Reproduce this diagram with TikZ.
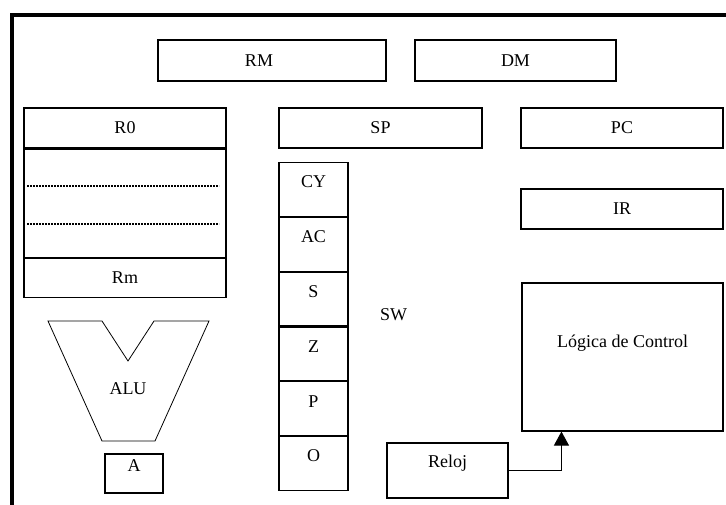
\documentclass[tikz,border=0pt]{standalone}
\usepackage{fontspec}
\setmainfont{Liberation Serif}
\usetikzlibrary{arrows.meta,calc}
\begin{document}
\begin{tikzpicture}[x=1pt,y=-1pt,
  box/.style={draw, line width=1.1pt, inner sep=0pt, font=\fontsize{18}{20}\selectfont},
  txt/.style={inner sep=0pt, font=\fontsize{18}{20}\selectfont},
  dotline/.style={line width=2.6pt, dash pattern=on 1.8pt off 1.2pt},
  frameline/.style={line width=4pt}]
\useasboundingbox (0,0) rectangle (726,504);
\fill[white] (0,0) rectangle (726,504);
\draw[frameline] (12,510) -- (12,15) -- (732,15);

% top memories
\node[box, minimum width=228, minimum height=41] (rm) at (272,60.5) {};
\node[txt] (rmt) at (259,60.5) {RM};
\node[box, minimum width=201, minimum height=41] (dm) at (515.5,60.5) {DM};

% register file
\node[box, minimum width=202, minimum height=40] (r0) at (125,128) {R0};
\node[box, minimum width=202, minimum height=108, anchor=north] (regs) at (r0.south) {};
\node[box, minimum width=202, minimum height=39, anchor=north] (rmreg) at (regs.south) {Rm};
\draw[dotline] (27,186) -- (219,186);
\draw[dotline] (27,224) -- (219,224);

% SP, PC, IR
\node[box, minimum width=203, minimum height=40] (sp) at (380.5,128) {SP};
\node[box, minimum width=202, minimum height=40] (pc) at (622,128) {PC};
\node[box, minimum width=202, minimum height=40] (ir) at (622,209) {IR};

% status word column
\node[box, minimum width=69, minimum height=54, anchor=north] (cy) at (313.5,162) {};
\node[box, minimum width=69, minimum height=53.6, anchor=north] (ac) at (cy.south) {};
\node[box, minimum width=69, minimum height=53.6, anchor=north] (s) at (ac.south) {};
\node[box, minimum width=69, minimum height=53.6, anchor=north] (z) at (s.south) {};
\node[box, minimum width=69, minimum height=53.6, anchor=north] (p) at (z.south) {};
\node[box, minimum width=69, minimum height=53.6, anchor=north] (o) at (p.south) {};
\node[txt] (cyt) at ($(cy.north)+(0,20)$) {CY};
\node[txt] (act) at ($(ac.north)+(0,20)$) {AC};
\node[txt] (st) at ($(s.north)+(0,20)$) {S};
\node[txt] (zt) at ($(z.north)+(0,20)$) {Z};
\node[txt] (pt) at ($(p.north)+(0,20)$) {P};
\node[txt] (ot) at ($(o.north)+(0,20)$) {O};
\node[txt] (sw) at (393.5,315) {SW};

% ALU
\draw[line width=0.8pt, line join=miter] (48,321) -- (102,321) -- (128,361) -- (154,321) -- (209,321)
  -- (155,441) -- (102,441) -- cycle;
\node[txt] (alu) at (128,389) {ALU};
\node[box, minimum width=58, minimum height=39] (a) at (134,473.5) {};
\node[txt] (at) at (134,466) {A};

% control
\node[box, minimum width=201, minimum height=148] (logica) at (622.5,357) {};
\node[txt] (logt) at (622.5,343) {Lógica de Control};
\node[box, minimum width=121, minimum height=55] (reloj) at (447.5,470.5) {};
\node[txt] (relt) at (447.5,463) {Reloj};
\coordinate (lin) at ($(logica.south west)+(40,0)$);
\draw[line width=1.1pt, -{Triangle[width=15pt,length=14pt]}] (reloj.east) -| (lin);
\end{tikzpicture}
\end{document}
